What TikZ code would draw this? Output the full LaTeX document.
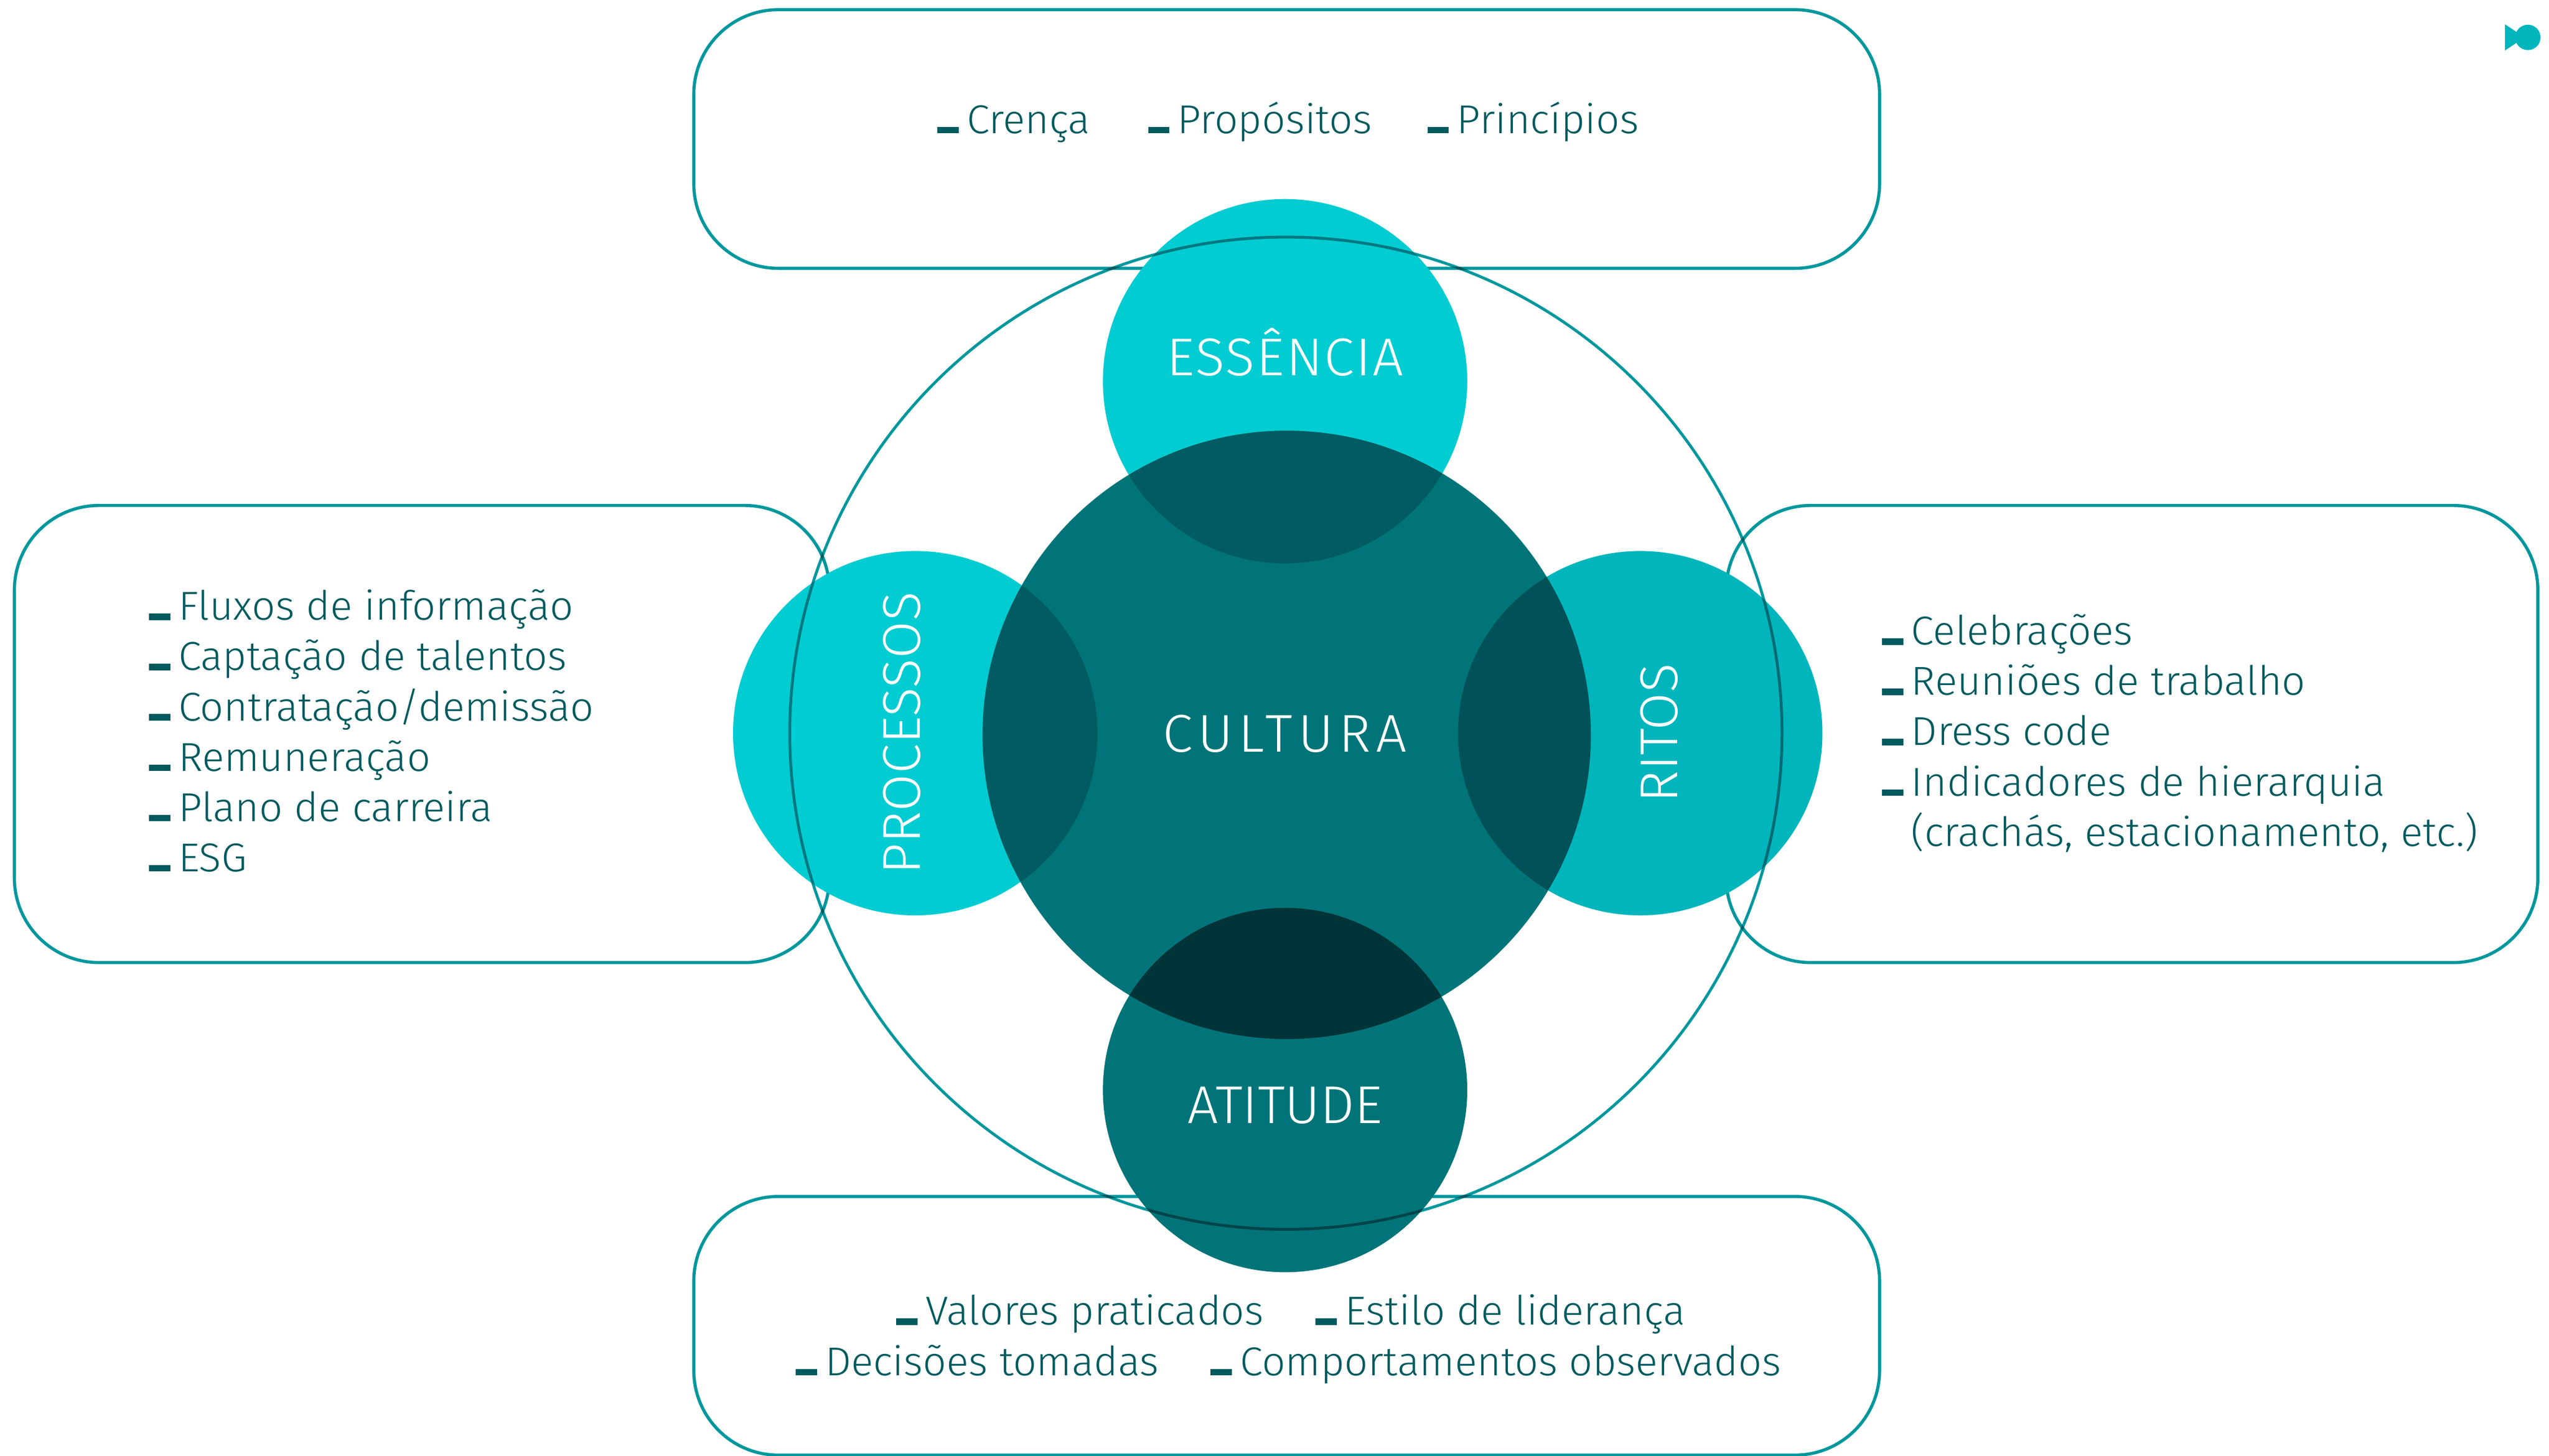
\documentclass[tikz,border=0pt]{standalone}
\usepackage{fontspec}
\setmainfont{Fira Sans Light}[FakeStretch=1.025]
\usetikzlibrary{positioning}
\definecolor{ringcol}{HTML}{00979D}
\definecolor{textcol}{HTML}{005A5E}
\definecolor{essenciacol}{HTML}{00CCD2}
\definecolor{ritoscol}{HTML}{00B5BC}
\definecolor{culturacol}{HTML}{007478}
\newcommand{\itm}[1]{\rule{.13cm}{.04cm}\hspace{.05cm}#1}
\tikzset{
  caixa/.style={draw=ringcol, line width=.55pt, rounded corners=.52cm, minimum height=#1},
  bola/.style={circle, inner sep=0pt, outer sep=0pt, minimum size=2.24cm},
  titulo/.style={text=white, inner sep=0pt, anchor=base, font=\fontsize{9.3pt}{11pt}\selectfont},
  lista/.style={text=textcol, inner sep=0pt, align=left, font=\fontsize{7.05pt}{8.8pt}\selectfont}
}
\begin{document}
\begin{tikzpicture}[x=0.01cm, y=-0.01cm]
  \useasboundingbox (0,0) rectangle (1568,895.3);
  % caixas
  \node[caixa=1.59cm, minimum width=7.29cm] (topo) at (791.5,85.5) {};
  \node[caixa=1.59cm, minimum width=7.29cm] (base) at (791.5,815.5) {};
  \node[caixa=2.81cm, minimum width=5.01cm] (esq) at (259.5,451.5) {};
  \node[caixa=2.81cm, minimum width=4.99cm] (dir) at (1311.5,451.5) {};
  % fundo branco das bolas
  \coordinate (pEss) at (790.5,234.5);
  \coordinate (pAti) at (790.5,670.5);
  \coordinate (pPro) at (563,451);
  \coordinate (pRit) at (1009,451);
  \coordinate (pCul) at (791.5,452);
  \foreach \p in {pEss,pAti,pPro,pRit}
    \fill[white] (\p) circle (112);
  % bolas
  \begin{scope}[blend mode=multiply]
    \node[bola, fill=essenciacol] (essencia) at (pEss) {};
    \node[bola, fill=essenciacol] (processos) at (pPro) {};
    \node[bola, fill=ritoscol] (ritos) at (pRit) {};
    \node[bola, fill=culturacol] (atitude) at (pAti) {};
    \node[circle, inner sep=0pt, outer sep=0pt, minimum size=3.74cm, fill=culturacol] (cultura) at (pCul) {};
    \node[circle, inner sep=0pt, outer sep=0pt, minimum size=6.1cm, draw=ringcol, line width=.5pt] (anel) at (791,451) {};
  \end{scope}
  % titulos
  \node[titulo] (tEss) at (790.5,231) {\addfontfeature{LetterSpace=3}ESSÊNCIA};
  \node[titulo] (tCul) at (790.5,462.5) {\addfontfeature{LetterSpace=10}CULTURA};
  \node[titulo] (tAti) at (790.5,691) {ATITUDE};
  \node[titulo, rotate=90] (tPro) at (566,451) {PROCESSOS};
  \node[titulo, rotate=90] (tRit) at (1032,451) {RITOS};
  % listas
  \node[lista, anchor=base west] (crenca) at (576,82) {\itm{Crença}};
  \node[lista, anchor=base west] (propositos) at (705.6,82) {\itm{Propósitos}};
  \node[lista, anchor=base west] (principios) at (877.5,82) {\itm{Princípios}};
  \node[lista, anchor=west] (lEsq) at (91,449.5) {\itm{Fluxos de informação}\\\itm{Captação de talentos}\\\itm{Contratação/demissão}\\\itm{Remuneração}\\\itm{Plano de carreira}\\\itm{ESG}};
  \node[lista, anchor=west] (lDir) at (1157,451) {\itm{Celebrações}\\\itm{Reuniões de trabalho}\\\itm{Dress code}\\\itm{Indicadores de hierarquia}\\\hspace{.18cm}(crachás, estacionamento, etc.)};
  \node[lista, anchor=base west] (valores) at (550.7,815) {\itm{Valores praticados}};
  \node[lista, anchor=base west] (estilo) at (808.6,815) {\itm{Estilo de liderança}};
  \node[lista, anchor=base west] (decisoes) at (488.8,846) {\itm{Decisões tomadas}};
  \node[lista, anchor=base west] (comport) at (744,846) {\itm{Comportamentos observados}};
  % logo
  \fill[ritoscol] (1541,15) -- (1553,23) -- (1541,31) -- cycle;
  \fill[ritoscol] (1555,23) circle (7.8);
\end{tikzpicture}
\end{document}
